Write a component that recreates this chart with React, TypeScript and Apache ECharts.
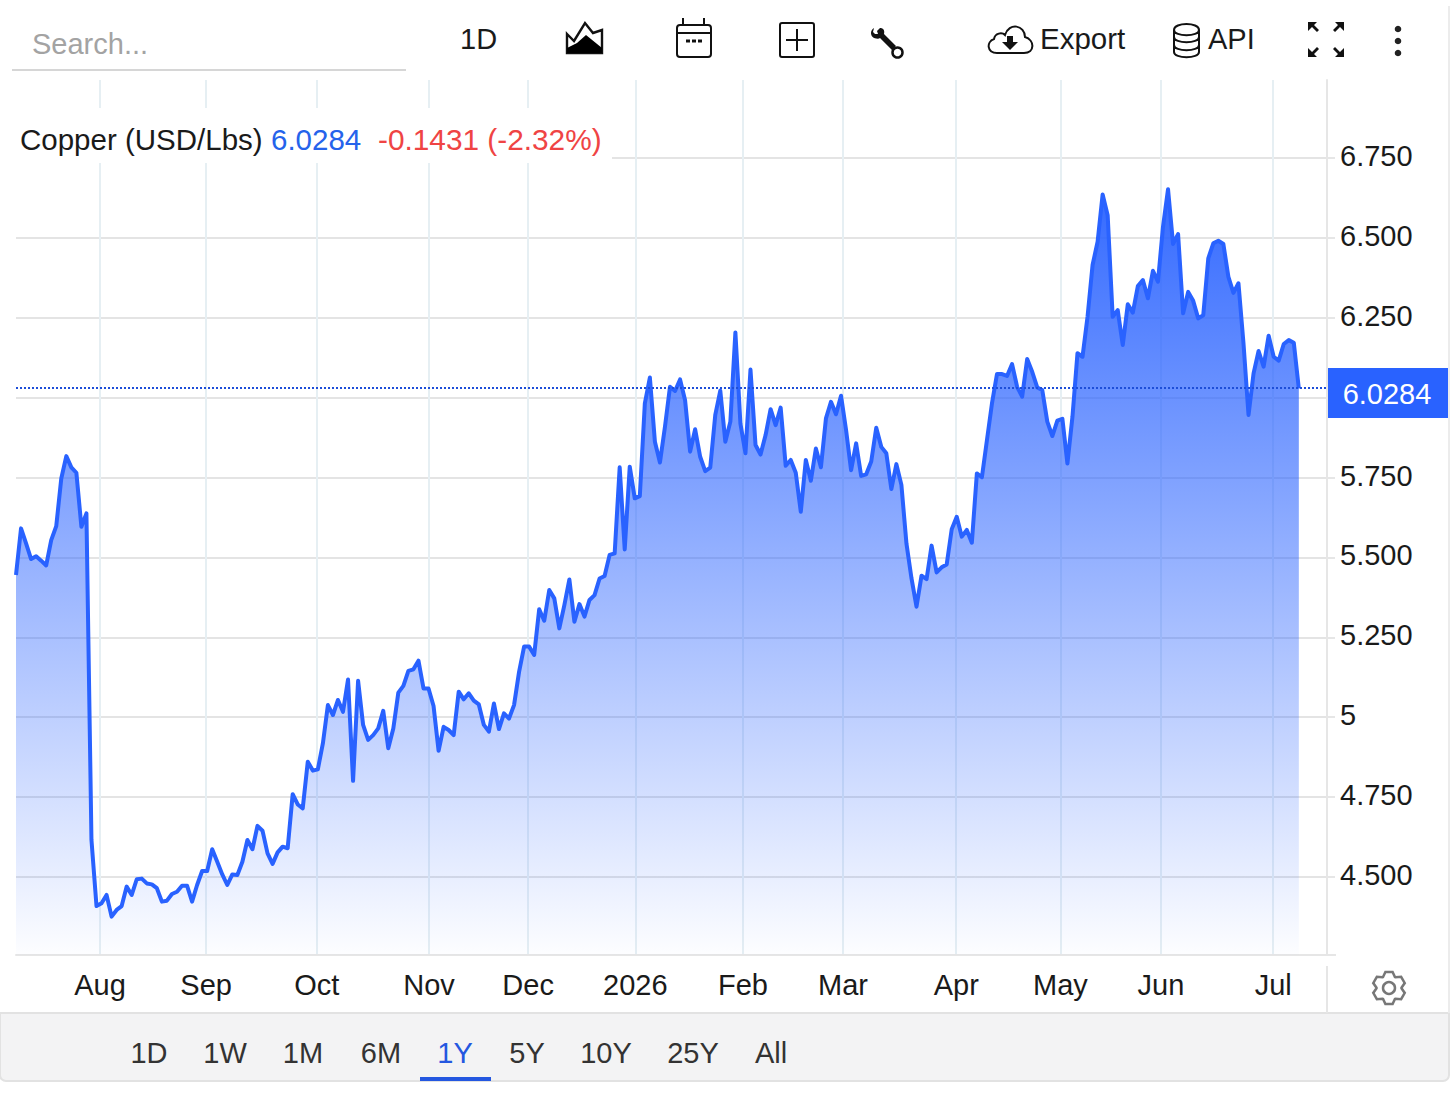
import React, { useEffect, useRef } from "react";
import * as echarts from "echarts";

// Trading-day closes (one per trading day)
const closeJul2025 = [5.445, 5.591, 5.544, 5.495, 5.504, 5.49, 5.475, 5.554, 5.598, 5.747, 5.817, 5.782, 5.765, 5.596, 5.638, 4.616, 4.409];
const closeAug2025 = [4.418, 4.444, 4.376, 4.397, 4.409, 4.47, 4.444, 4.493, 4.495, 4.48, 4.477, 4.465, 4.423, 4.426, 4.447, 4.454, 4.473, 4.473, 4.423, 4.475, 4.519];
const closeSep2025 = [4.519, 4.587, 4.548, 4.508, 4.475, 4.508, 4.506, 4.548, 4.616, 4.587, 4.66, 4.645, 4.574, 4.541, 4.577, 4.595, 4.59, 4.759, 4.727, 4.715, 4.861, 4.833];
const closeOct2025 = [4.837, 4.918, 5.038, 5.007, 5.054, 5.017, 5.118, 4.801, 5.114, 4.976, 4.929, 4.944, 4.965, 5.02, 4.903, 4.965, 5.077, 5.098, 5.145, 5.15, 5.177, 5.09];
const closeNov2025 = [5.09, 5.035, 4.895, 4.97, 4.96, 4.944, 5.08, 5.056, 5.075, 5.052, 5.04, 4.976, 4.955, 5.043, 4.963, 5.012, 4.996, 5.038, 5.142, 5.221];
const closeDec2025 = [5.221, 5.195, 5.338, 5.302, 5.398, 5.372, 5.278, 5.351, 5.431, 5.299, 5.354, 5.315, 5.367, 5.382, 5.434, 5.442, 5.508, 5.513, 5.782, 5.525, 5.784];
const closeJan2026 = [5.685, 5.692, 5.982, 6.063, 5.862, 5.797, 5.909, 6.034, 6.021, 6.057, 5.992, 5.831, 5.901, 5.815, 5.77, 5.781, 5.946, 6.022, 5.862, 5.925, 6.204];
const closeFeb2026 = [5.919, 5.826, 6.088, 5.852, 5.822, 5.883, 5.964, 5.914, 5.969, 5.787, 5.805, 5.765, 5.643, 5.805, 5.74, 5.841, 5.782, 5.935, 5.987, 5.948];
const closeMar2026 = [6.006, 5.899, 5.773, 5.857, 5.755, 5.76, 5.8, 5.906, 5.846, 5.826, 5.714, 5.792, 5.727, 5.544, 5.435, 5.346, 5.443, 5.432, 5.537, 5.453, 5.469, 5.478];
const closeApr2026 = [5.588, 5.627, 5.565, 5.586, 5.546, 5.763, 5.751, 5.867, 5.982, 6.074, 6.074, 6.068, 6.105, 6.034, 6.003, 6.121, 6.081, 6.032, 6.024, 5.925, 5.88];
const closeMay2026 = [5.928, 5.934, 5.794, 5.94, 6.139, 6.128, 6.253, 6.415, 6.488, 6.636, 6.571, 6.253, 6.274, 6.165, 6.292, 6.266, 6.349, 6.368, 6.311, 6.397];
const closeJun2026 = [6.363, 6.535, 6.652, 6.481, 6.512, 6.264, 6.331, 6.303, 6.248, 6.258, 6.436, 6.483, 6.491, 6.481, 6.378, 6.328, 6.358, 6.17, 5.946, 6.076, 6.146, 6.097];
const closeJul2026 = [6.194, 6.128, 6.116, 6.168, 6.18, 6.172, 6.0284];

const closes = [
  ...closeJul2025, ...closeAug2025, ...closeSep2025, ...closeOct2025, ...closeNov2025, ...closeDec2025,
  ...closeJan2026, ...closeFeb2026, ...closeMar2026, ...closeApr2026, ...closeMay2026, ...closeJun2026, ...closeJul2026,
];

// Month boundaries on the trading-day scale
const monthLabels = ["Aug", "Sep", "Oct", "Nov", "Dec", "2026", "Feb", "Mar", "Apr", "May", "Jun", "Jul"];
const monthDays = [16.7, 37.8, 59.8, 82.1, 101.8, 123.1, 144.5, 164.4, 186.9, 207.6, 227.6, 249.9];
const gridTicks = [4.5, 4.75, 5, 5.25, 5.5, 5.75, 6, 6.25, 6.5, 6.75];
const priceLabels = [4.5, 4.75, 5, 5.25, 5.5, 5.75, 6.25, 6.5, 6.75];
const rangeLabels = ["1D", "1W", "1M", "6M", "1Y", "5Y", "10Y", "25Y", "All"];
const rangeCenters = [149, 225, 303, 381, 455, 527, 606, 693, 771];
const activeRange = "1Y";

const lastPrice = "6.0284";
const lastChange = "-0.1431 (-2.32%)";
const seriesName = "Copper (USD/Lbs)";

const FONT = '"Liberation Sans", Arial, sans-serif';
const BLUE = "#2962ff";
const INK = "#1a1a1a";

echarts.graphic.registerShape("iconAreaOutline", echarts.graphic.extendPath("M567 34 L574 41 L585 23 L593 33 L602 30 L602 53 L567 53 Z", {}));
echarts.graphic.registerShape("iconAreaFill", echarts.graphic.extendPath("M567 53 L567 48 L577 43 L586 35 L602 48 L602 53 Z", {}));
echarts.graphic.registerShape("iconCloud", echarts.graphic.extendPath("M997 53 C987 53 986 42 994 39 C995 33 1002 32 1005 35 C1009 22 1025 25 1025 37 C1035 40 1035 53 1024 53 Z", {}));
echarts.graphic.registerShape("iconCloudArrow", echarts.graphic.extendPath("M1007 36 L1013 36 L1013 42 L1018 42 L1010 50 L1002 42 L1007 42 Z", {}));
echarts.graphic.registerShape("iconDb", echarts.graphic.extendPath("M1174 30 C1174 22 1199 22 1199 30 C1199 37 1174 37 1174 30 L1174 52 C1174 59 1199 59 1199 52 L1199 30 M1174 37 C1174 44 1199 44 1199 37 M1174 45 C1174 52 1199 52 1199 45", {}));
echarts.graphic.registerShape("iconExpand", echarts.graphic.extendPath("M1308 22 L1317 22 L1314 25 L1319 30 L1317 32 L1312 27 L1308 31 Z M1344 22 L1335 22 L1338 25 L1333 30 L1335 32 L1340 27 L1344 31 Z M1308 57 L1317 57 L1314 54 L1319 49 L1317 47 L1312 52 L1308 48 Z M1344 57 L1335 57 L1338 54 L1333 49 L1335 47 L1340 52 L1344 48 Z", {}));
echarts.graphic.registerShape("iconWrench", echarts.graphic.extendPath("M874 28 C870 30 870 36 874 38 C877 39 879 39 880 38 L892 50 L896 46 L884 34 C885 30 883 28 880 28 L877 31 L878 34 L875 34 L873 32 Z", {}));

function gearPoints(cx: number, cy: number, outer: number, inner: number, teeth: number) {
  const pts: number[][] = [];
  for (let i = 0; i < teeth; i++) {
    const a = (i / teeth) * Math.PI * 2 - Math.PI / 2;
    const w = Math.PI / teeth;
    [[-w * 0.95, inner], [-w * 0.42, outer], [w * 0.42, outer], [w * 0.95, inner]].forEach(([d, r]) => {
      pts.push([cx + Math.cos(a + d) * r, cy + Math.sin(a + d) * r]);
    });
  }
  return pts;
}

function label(text: string, x: number, y: number, fill = INK, align = "left", size = 29) {
  return {
    type: "text",
    z: 101,
    silent: true,
    style: {
      text, x, y, fill, font: `${size}px ${FONT}`,
      textAlign: align, textVerticalAlign: "middle", align, verticalAlign: "middle",
    },
  };
}

function buildGraphic() {
  const stroke = { fill: "none", stroke: "#111", lineWidth: 2 };
  const thin = (x1: number, y1: number, x2: number, y2: number, color = "#111", lineWidth = 2) => ({
    type: "line", z: 101, silent: true, shape: { x1, y1, x2, y2 }, style: { stroke: color, lineWidth },
  });
  const rect = (x: number, y: number, width: number, height: number, fill: string, r: any = 0, extra: any = {}) => ({
    type: "rect", z: 100, silent: true, shape: { x, y, width, height, r }, style: { fill, ...extra },
  });
  return [
    // frame and range bar
    thin(1449, 6, 1449, 1013, "#ececec", 2),
    rect(0, 1013, 1449, 68, "#f3f3f4", [0, 0, 6, 6], { stroke: "#e2e2e2", lineWidth: 2 }),
    rect(420, 1077, 71, 4, "#2457e0"),
    ...rangeLabels.map((t, i) => label(t, rangeCenters[i], 1053, t === activeRange ? "#2457e0" : "#333", "center")),
    // legend
    rect(14, 108, 598, 55, "#ffffff"),
    label(seriesName, 20, 139, INK, "left", 29.5),
    label(lastPrice, 271, 139, "#2563eb", "left", 29.5),
    label(lastChange, 378, 139, "#ef4444", "left", 29.8),
    // search
    label("Search...", 32, 44, "#a3a3a3"),
    thin(12, 70, 406, 70, "#d6d6d6", 2),
    // toolbar
    label("1D", 460, 39),
    { type: "iconAreaOutline", z: 101, silent: true, style: { ...stroke, lineWidth: 2.4 } },
    { type: "iconAreaFill", z: 101, silent: true, style: { fill: "#000" } },
    { type: "rect", z: 101, silent: true, shape: { x: 677, y: 25, width: 34, height: 32, r: 3 }, style: stroke },
    thin(683, 18, 683, 25), thin(704, 18, 704, 25), thin(677, 33, 711, 33),
    thin(686, 41, 690, 41, "#111", 3), thin(692, 41, 696, 41, "#111", 3), thin(698, 41, 702, 41, "#111", 3),
    { type: "rect", z: 101, silent: true, shape: { x: 780, y: 23, width: 34, height: 34, r: 2 }, style: stroke },
    thin(786, 40, 808, 40), thin(797, 29, 797, 51),
    { type: "iconWrench", z: 101, silent: true, style: { fill: "#111" } },
    { type: "circle", z: 101, silent: true, shape: { cx: 897.5, cy: 52.5, r: 5 }, style: { fill: "#fff", stroke: "#111", lineWidth: 2.5 } },
    { type: "iconCloud", z: 101, silent: true, style: stroke },
    { type: "iconCloudArrow", z: 101, silent: true, style: { fill: "#111" } },
    label("Export", 1040, 38, INK, "left", 29.5),
    { type: "iconDb", z: 101, silent: true, style: stroke },
    label("API", 1208, 39),
    { type: "iconExpand", z: 101, silent: true, style: { fill: "#111" } },
    { type: "circle", z: 101, silent: true, shape: { cx: 1398, cy: 29, r: 3.3 }, style: { fill: "#222" } },
    { type: "circle", z: 101, silent: true, shape: { cx: 1398, cy: 41, r: 3.3 }, style: { fill: "#222" } },
    { type: "circle", z: 101, silent: true, shape: { cx: 1398, cy: 53, r: 3.3 }, style: { fill: "#222" } },
    // last-price tag
    rect(1328, 368, 120, 50, BLUE),
    label(lastPrice, 1387, 394, "#ffffff", "center"),
    // settings gear and axis foot
    thin(1327, 955, 1336, 955, "#e6e6e6", 2),
    thin(1327, 966, 1327, 1013, "#e6e6e6", 2),
    { type: "polygon", z: 101, silent: true, shape: { points: gearPoints(1389, 988, 16.5, 12.5, 6) }, style: { fill: "none", stroke: "#777", lineWidth: 2.5 } },
    { type: "circle", z: 101, silent: true, shape: { cx: 1389, cy: 988, r: 6 }, style: { fill: "none", stroke: "#777", lineWidth: 2.5 } },
  ];
}

export default function App() {
  const ref = useRef<HTMLDivElement>(null);
  useEffect(() => {
    document.body.style.margin = "0";
    const chart = echarts.init(ref.current!, undefined, { renderer: "svg" });
    chart.setOption({
      animation: false,
      backgroundColor: "#ffffff",
      grid: { left: 16, right: 129, top: 80, bottom: 140, containLabel: false },
      xAxis: {
        type: "value",
        min: 0,
        max: 260.6,
        axisLine: { show: true, onZero: false, lineStyle: { color: "#e6e6e6", width: 2 } },
        axisTick: { show: false, customValues: monthDays },
        splitLine: { show: true, lineStyle: { color: "#e6eff3", width: 2 } },
        axisLabel: {
          customValues: monthDays,
          margin: 15,
          color: INK,
          fontSize: 29,
          fontFamily: FONT,
          hideOverlap: false,
          showMinLabel: true,
          showMaxLabel: true,
          formatter: (v: number) => monthLabels[monthDays.indexOf(v)] ?? "",
        },
      },
      yAxis: {
        type: "value",
        position: "right",
        min: 4.256,
        max: 6.994,
        axisLine: { show: true, onZero: false, lineStyle: { color: "#e6e6e6", width: 2 } },
        axisTick: { show: true, length: 8, customValues: gridTicks, lineStyle: { color: "#e6e6e6", width: 2 } },
        splitLine: { show: true, lineStyle: { color: "#e4e4e4", width: 2 } },
        axisLabel: {
          customValues: priceLabels,
          margin: 13,
          color: INK,
          fontSize: 29,
          fontFamily: FONT,
          rich: { p: { color: INK, fontSize: 29, fontFamily: FONT, padding: [0, 0, 4, 0] } },
          formatter: (v: number) => `{p|${v === 5 ? "5" : v.toFixed(3)}}`,
        },
      },
      series: [
        {
          type: "line",
          data: closes.map((v, i) => [i, v]),
          showSymbol: false,
          symbol: "none",
          smooth: false,
          lineStyle: { color: BLUE, width: 4, join: "round" },
          areaStyle: {
            origin: "start",
            opacity: 1,
            color: new echarts.graphic.LinearGradient(0, 0, 0, 1, [
              { offset: 0, color: "rgba(41,98,255,0.95)" },
              { offset: 1, color: "rgba(41,98,255,0.01)" },
            ]),
          },
          markLine: {
            silent: true,
            symbol: "none",
            animation: false,
            label: { show: false },
            lineStyle: { type: [2, 2], color: "#1d4ed8", width: 2 },
            data: [{ yAxis: Number(lastPrice) }],
          },
        },
      ],
      graphic: { elements: buildGraphic() },
    });
    return () => chart.dispose();
  }, []);
  return <div ref={ref} style={{ width: 1456, height: 1095, position: "absolute", left: 0, top: 0 }} />;
}
